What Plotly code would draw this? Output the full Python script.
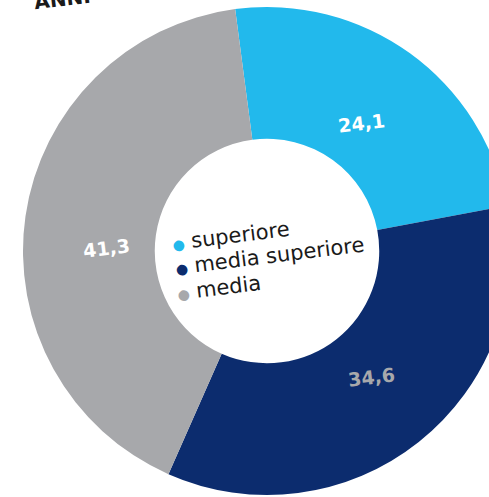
import plotly.graph_objects as go

categories = ["superiore", "media superiore", "media"]
values = [24.1, 34.6, 41.3]
value_labels = ["24,1", "34,6", "41,3"]
colors = ["#22B9EC", "#0C2C6E", "#A7A8AB"]
label_colors = ["#FFFFFF", "#A7A8AB", "#FFFFFF"]
title_text = "ANNI"

W, H = 512, 497
cx, cy, R = 267, 251, 244
ANG = -7

def px(x):
    return x / W

def py(y):
    return 1 - y / H

fig = go.Figure(go.Pie(
    labels=categories, values=values, hole=0.46, sort=False,
    direction="clockwise", rotation=-7.5,
    marker=dict(colors=colors, line=dict(width=0)),
    textinfo="none", hoverinfo="label+value", showlegend=False,
    domain=dict(x=[(cx - R) / W, (cx + R) / W], y=[py(cy + R), py(cy - R)]),
))

label_pos = [(361, 123), (371, 377), (106, 248)]
for txt, col, (x, y) in zip(value_labels, label_colors, label_pos):
    fig.add_annotation(x=px(x), y=py(y), xref="paper", yref="paper",
                       text="<b>" + txt + "</b>", showarrow=False, textangle=ANG,
                       font=dict(family="DejaVu Sans", size=19, color=col),
                       xanchor="center", yanchor="middle")

legend_pos = [(231, 236), (270, 256), (219, 288)]
for cat, col, (x, y) in zip(categories, colors, legend_pos):
    fig.add_annotation(x=px(x), y=py(y), xref="paper", yref="paper",
                       text='<span style="color:%s;font-size:14px">●</span> %s' % (col, cat),
                       showarrow=False, textangle=ANG,
                       font=dict(family="DejaVu Sans", size=21, color="#1a1a1a"),
                       xanchor="center", yanchor="middle")

fig.add_annotation(x=px(62), y=py(-1), xref="paper", yref="paper",
                   text="<b>" + title_text + "</b>", showarrow=False, textangle=ANG,
                   font=dict(family="DejaVu Sans", size=20, color="#1a1a1a"),
                   xanchor="center", yanchor="middle")

fig.update_layout(width=W, height=H, margin=dict(l=0, r=0, t=0, b=0),
                  paper_bgcolor="white", plot_bgcolor="white")

fig.write_html("out.html", config={"displayModeBar": False},
               post_script="document.body.style.margin='0';document.body.style.overflow='hidden';")
